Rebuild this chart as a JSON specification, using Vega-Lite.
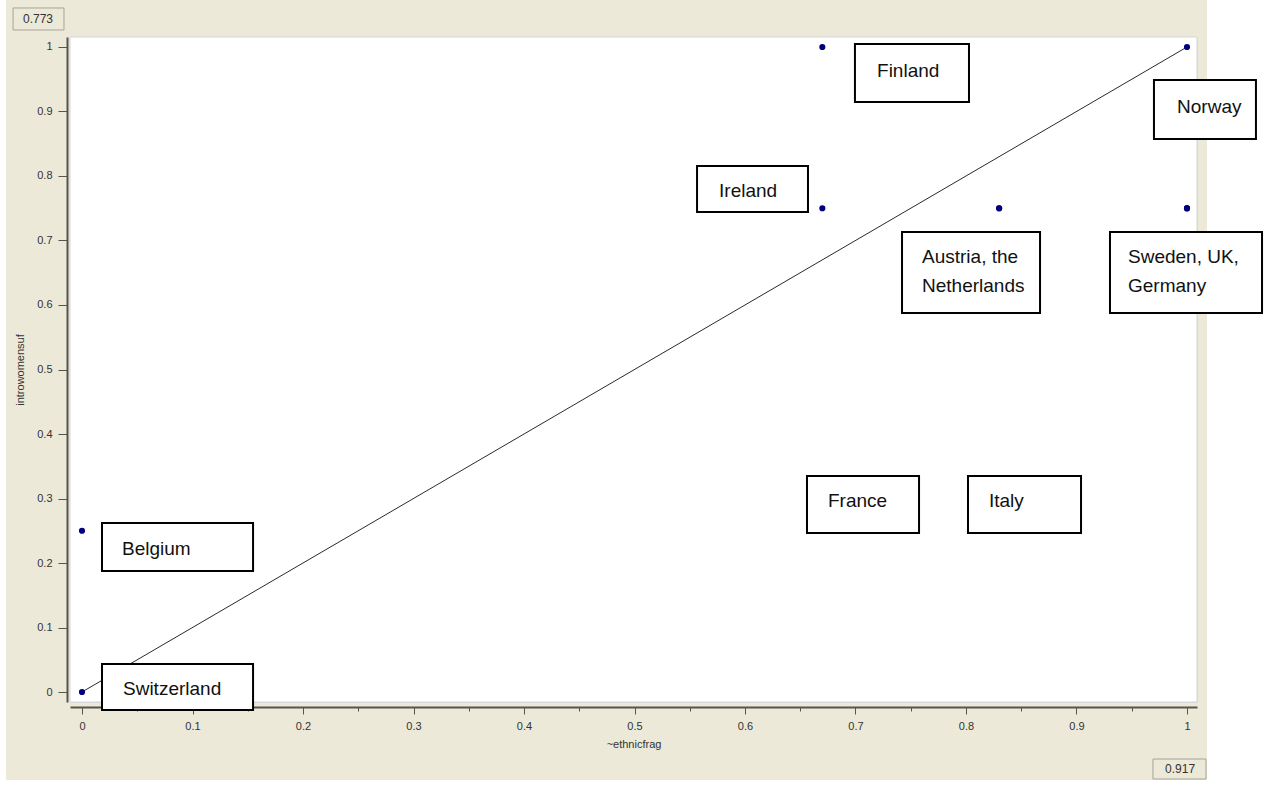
{
  "$schema": "https://vega.github.io/schema/vega-lite/v6.json",
  "width": 1127,
  "height": 665,
  "autosize": {"type": "none"},
  "padding": {"left": 70, "top": 37, "right": 80, "bottom": 85},
  "background": "#ECE9D8",
  "config": {
    "font": "Liberation Sans",
    "axis": {
      "grid": false,
      "tickColor": "#55554d", "tickWidth": 1,
      "domainColor": "#55554d", "domainWidth": 2,
      "labelFont": "Liberation Sans", "labelFontSize": 11, "labelColor": "#333333",
      "titleFont": "Liberation Sans", "titleFontSize": 11,
      "titleFontWeight": "normal", "titleColor": "#333333"
    }
  },
  "datasets": {
    "points": [
      {"country": "Switzerland", "ethnicfrag": 0, "introwomensuf": 0},
      {"country": "Belgium", "ethnicfrag": 0, "introwomensuf": 0.25},
      {"country": "Finland", "ethnicfrag": 0.67, "introwomensuf": 1},
      {"country": "Ireland", "ethnicfrag": 0.67, "introwomensuf": 0.75},
      {"country": "France", "ethnicfrag": 0.67, "introwomensuf": 0.25},
      {"country": "Austria", "ethnicfrag": 0.83, "introwomensuf": 0.75},
      {"country": "Netherlands", "ethnicfrag": 0.83, "introwomensuf": 0.75},
      {"country": "Italy", "ethnicfrag": 0.83, "introwomensuf": 0.25},
      {"country": "Norway", "ethnicfrag": 1, "introwomensuf": 1},
      {"country": "Sweden", "ethnicfrag": 1, "introwomensuf": 0.75},
      {"country": "UK", "ethnicfrag": 1, "introwomensuf": 0.75},
      {"country": "Germany", "ethnicfrag": 1, "introwomensuf": 0.75}
    ],
    "fit": [
      {"ethnicfrag": 0, "introwomensuf": 0},
      {"ethnicfrag": 1, "introwomensuf": 1}
    ],
    "labels": [
      {"label": "Finland", "bx1": 0.6995, "bx2": 0.8027, "by1": 1.0047, "by2": 0.9147, "tx": 0.7195, "ty": 0.9535},
      {"label": "Norway", "bx1": 0.9701, "bx2": 1.0624, "by1": 0.9488, "by2": 0.8574, "tx": 0.9910, "ty": 0.8977},
      {"label": "Ireland", "bx1": 0.5566, "bx2": 0.6570, "by1": 0.8155, "by2": 0.7442, "tx": 0.5765, "ty": 0.7674},
      {"label": "Austria, the\nNetherlands", "bx1": 0.7421, "bx2": 0.8670, "by1": 0.7132, "by2": 0.5876, "tx": 0.7602, "ty": 0.6651},
      {"label": "Sweden, UK,\nGermany", "bx1": 0.9303, "bx2": 1.0679, "by1": 0.7132, "by2": 0.5876, "tx": 0.9466, "ty": 0.6651},
      {"label": "France", "bx1": 0.6561, "bx2": 0.7575, "by1": 0.3349, "by2": 0.2465, "tx": 0.6751, "ty": 0.2868},
      {"label": "Italy", "bx1": 0.8018, "bx2": 0.9041, "by1": 0.3349, "by2": 0.2465, "tx": 0.8208, "ty": 0.2868},
      {"label": "Belgium", "bx1": 0.0181, "bx2": 0.1548, "by1": 0.2620, "by2": 0.1876, "tx": 0.0362, "ty": 0.2124},
      {"label": "Switzerland", "bx1": 0.0181, "bx2": 0.1548, "by1": 0.0434, "by2": -0.0279, "tx": 0.0371, "ty": -0.0047}
    ],
    "ranges": [
      {"value": "0.773", "bx1": -0.0624, "bx2": -0.0163, "by1": 1.0605, "by2": 1.0264, "tx": -0.0398, "ty": 1.0434},
      {"value": "0.917", "bx1": 0.9692, "bx2": 1.0172, "by1": -0.1039, "by2": -0.1349, "tx": 0.9937, "ty": -0.1194}
    ]
  },
  "layer": [
    {
      "data": {"name": "points"},
      "mark": {"type": "circle", "color": "#00007F", "opacity": 1, "size": 38},
      "encoding": {
        "x": {"field": "ethnicfrag", "type": "quantitative", "scale": {"domain": [-0.01086, 1.00905], "nice": false, "zero": false},
          "axis": {"orient": "bottom", "offset": 5,
            "values": [0, 0.05, 0.1, 0.15, 0.2, 0.25, 0.3, 0.35, 0.4, 0.45, 0.5, 0.55, 0.6, 0.65, 0.7, 0.75, 0.8, 0.85, 0.9, 0.95, 1],
            "format": "~g",
            "labelExpr": "abs(datum.value*10 - round(datum.value*10)) < 0.001 ? datum.label : ''",
            "tickDash": {"condition": {"test": "abs(datum.value*10 - round(datum.value*10)) < 0.001", "value": [20, 0]}, "value": [4, 20]},
            "tickSize": 7, "labelPadding": 6, "labelFlush": false, "title": "~ethnicfrag", "titlePadding": 7}},
        "y": {"field": "introwomensuf", "type": "quantitative", "scale": {"domain": [-0.0155, 1.0155], "nice": false, "zero": false},
          "axis": {"orient": "left", "offset": 3,
            "values": [0, 0.05, 0.1, 0.15, 0.2, 0.25, 0.3, 0.35, 0.4, 0.45, 0.5, 0.55, 0.6, 0.65, 0.7, 0.75, 0.8, 0.85, 0.9, 0.95, 1],
            "format": "~g",
            "labelExpr": "abs(datum.value*10 - round(datum.value*10)) < 0.001 ? datum.label : ''",
            "tickDash": {"condition": {"test": "abs(datum.value*10 - round(datum.value*10)) < 0.001", "value": [20, 0]}, "value": [5, 20]},
            "tickSize": 9, "labelPadding": 6, "labelFlush": false, "title": "introwomensuf", "titlePadding": 11}}
      }
    },
    {
      "data": {"values": [{}]},
      "mark": {"type": "rect", "fill": "white"},
      "encoding": {
        "x": {"datum": 1.0181, "type": "quantitative"},
        "x2": {"datum": 1.1},
        "y": {"datum": 1.1, "type": "quantitative"},
        "y2": {"datum": -0.2}
      }
    },
    {
      "data": {"values": [{}]},
      "mark": {"type": "rect", "fill": "white"},
      "encoding": {
        "x": {"datum": -0.1, "type": "quantitative"},
        "x2": {"datum": 1.1},
        "y": {"datum": -0.1364, "type": "quantitative"},
        "y2": {"datum": -0.2}
      }
    },
    {
      "data": {"values": [{}]},
      "mark": {"type": "rect", "fill": "white"},
      "encoding": {
        "x": {"datum": -0.1, "type": "quantitative"},
        "x2": {"datum": -0.0688},
        "y": {"datum": 1.1, "type": "quantitative"},
        "y2": {"datum": -0.2}
      }
    },
    {
      "data": {"values": [{}]},
      "mark": {"type": "rect", "fill": "white", "stroke": "#d6d6d6", "strokeWidth": 1},
      "encoding": {
        "x": {"datum": -0.01086, "type": "quantitative"},
        "x2": {"datum": 1.00905},
        "y": {"datum": -0.0155, "type": "quantitative"},
        "y2": {"datum": 1.0155}
      }
    },
    {
      "data": {"name": "fit"},
      "mark": {"type": "line", "color": "#2a2a2a", "strokeWidth": 1},
      "encoding": {
        "x": {"field": "ethnicfrag", "type": "quantitative"},
        "y": {"field": "introwomensuf", "type": "quantitative"}
      }
    },
    {
      "data": {"name": "points"},
      "mark": {"type": "circle", "color": "#00007F", "opacity": 1, "size": 38},
      "encoding": {
        "x": {"field": "ethnicfrag", "type": "quantitative"},
        "y": {"field": "introwomensuf", "type": "quantitative"}
      }
    },
    {
      "data": {"name": "labels"},
      "mark": {"type": "rect", "fill": "white", "stroke": "#000000", "strokeWidth": 2},
      "encoding": {
        "x": {"field": "bx1", "type": "quantitative"},
        "x2": {"field": "bx2"},
        "y": {"field": "by1", "type": "quantitative"},
        "y2": {"field": "by2"}
      }
    },
    {
      "data": {"name": "labels"},
      "mark": {"type": "text", "align": "left", "baseline": "alphabetic", "font": "Liberation Sans", "fontSize": 19, "color": "#111111", "lineBreak": "\n", "lineHeight": 29},
      "encoding": {
        "x": {"field": "tx", "type": "quantitative"},
        "y": {"field": "ty", "type": "quantitative"},
        "text": {"field": "label"}
      }
    },
    {
      "data": {"name": "ranges"},
      "mark": {"type": "rect", "fill": "#ECE9D8", "stroke": "#a6a49a", "strokeWidth": 1},
      "encoding": {
        "x": {"field": "bx1", "type": "quantitative"},
        "x2": {"field": "bx2"},
        "y": {"field": "by1", "type": "quantitative"},
        "y2": {"field": "by2"}
      }
    },
    {
      "data": {"name": "ranges"},
      "mark": {"type": "text", "align": "center", "baseline": "middle", "font": "Liberation Sans", "fontSize": 12, "color": "#333333"},
      "encoding": {
        "x": {"field": "tx", "type": "quantitative"},
        "y": {"field": "ty", "type": "quantitative"},
        "text": {"field": "value"}
      }
    }
  ]
}
